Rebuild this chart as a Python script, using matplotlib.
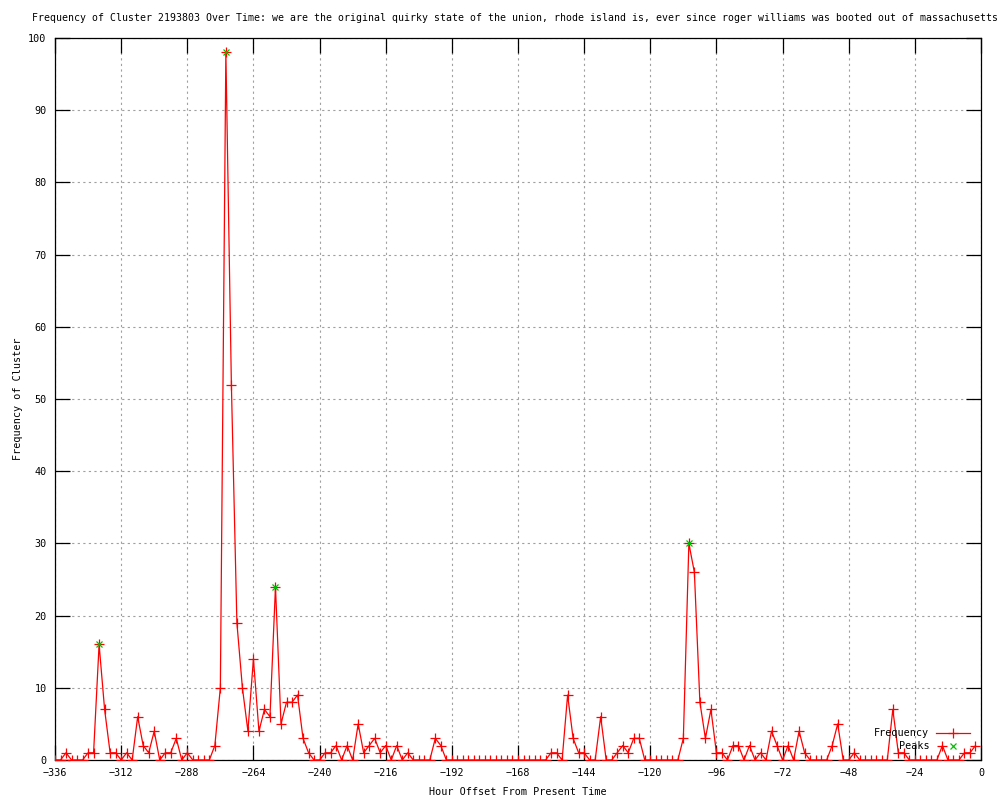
import matplotlib
matplotlib.use("Agg")
import matplotlib.pyplot as plt
import numpy as np

# Hour offsets (every 2 hours from -336 to -2)
hours = list(range(-336, 0, 2))

frequency = [
    0, 0, 1, 0, 0, 0, 1, 1, 16, 7,          # -336 .. -318
    1, 1, 0, 1, 0, 6, 2, 1, 4, 0,           # -316 .. -298
    1, 1, 3, 0, 1, 0, 0, 0, 0, 2,           # -296 .. -278
    10, 98, 52, 19, 10, 4, 14, 4, 7, 6,     # -276 .. -258
    24, 5, 8, 8, 9, 3, 1, 0, 0, 1,          # -256 .. -238
    1, 2, 0, 2, 0, 5, 1, 2, 3, 1,           # -236 .. -218
    2, 0, 2, 0, 1, 0, 0, 0, 0, 3,           # -216 .. -198
    2, 0, 0, 0, 0, 0, 0, 0, 0, 0,           # -196 .. -178
    0, 0, 0, 0, 0, 0, 0, 0, 0, 0,           # -176 .. -158
    1, 1, 0, 9, 3, 1, 1, 0, 0, 6,           # -156 .. -138
    0, 0, 1, 2, 1, 3, 3, 0, 0, 0,           # -136 .. -118
    0, 0, 0, 0, 3, 30, 26, 8, 3, 7,         # -116 .. -98
    1, 1, 0, 2, 2, 0, 2, 0, 1, 0,           # -96 .. -78
    4, 2, 0, 2, 0, 4, 1, 0, 0, 0,           # -76 .. -58
    0, 2, 5, 0, 0, 1, 0, 0, 0, 0,           # -56 .. -38
    0, 0, 7, 1, 1, 0, 0, 0, 0, 0,           # -36 .. -18
    0, 2, 0, 0, 0, 1, 1, 2,                 # -16 .. -2
]

peak_hours = [-320, -274, -256, -106]
peak_values = [16, 98, 24, 30]

title = ("Frequency of Cluster 2193803 Over Time: we are the original quirky state "
         "of the union, rhode island is, ever since roger williams was booted out of massachusetts")

plt.rcParams['font.family'] = ['DejaVu Sans Mono']
fs = 7.3

fig = plt.figure(figsize=(10, 8), dpi=100)
ax = fig.add_axes([0.055, 0.05, 0.926, 0.9025])

ax.plot(hours, frequency, color='#ff0000', lw=0.9, marker='+', ms=6.5, mew=0.9,
        label='Frequency', zorder=3)
ax.plot(peak_hours, peak_values, ls='none', color='#00c000', marker='x', ms=5, mew=0.9,
        label='Peaks', zorder=4)

ax.set_xlim(-336, 0)
ax.set_ylim(0, 100)
ax.set_xticks(np.arange(-336, 1, 24))
ax.set_yticks(np.arange(0, 101, 10))
ax.tick_params(direction='in', length=11, width=0.9, top=True, right=True,
               labelsize=fs, pad=6, color='black')
ax.grid(True, color='#a0a0a0', ls=(0, (2, 3)), lw=0.8)
ax.set_axisbelow(True)
for s in ax.spines.values():
    s.set_linewidth(0.9)
    s.set_color('black')

fig.text(0.5155, 1 - 18 / 800, title, fontsize=7.1, ha='center', va='center')
ax.set_xlabel("Hour Offset From Present Time", fontsize=fs, labelpad=6)
ax.set_ylabel("Frequency of Cluster", fontsize=fs, labelpad=4)

leg = ax.legend(loc='lower right', bbox_to_anchor=(0.988, 0.012), frameon=False,
                markerfirst=False, numpoints=1, fontsize=fs, handlelength=3.3,
                handletextpad=0.7, labelspacing=0.3, borderpad=0, borderaxespad=0)

fig.savefig("out.png", dpi=100)
